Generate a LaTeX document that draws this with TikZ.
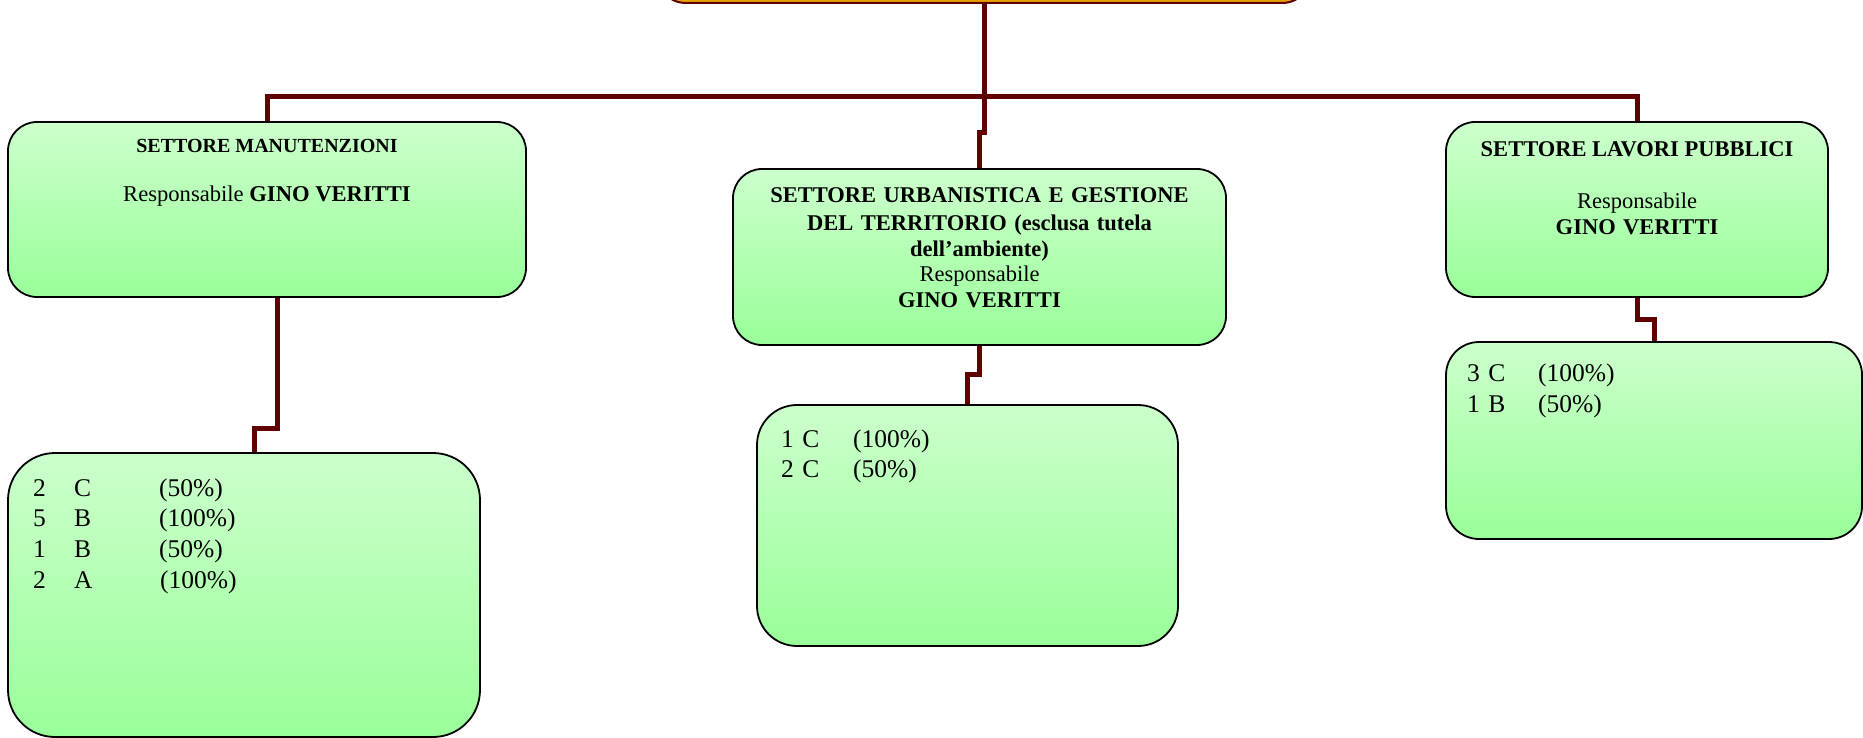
\documentclass[tikz,border=0pt]{standalone}
\usepackage{fontspec}
\setmainfont{Liberation Serif}
\usetikzlibrary{backgrounds}
\definecolor{connred}{RGB}{96,0,0}
\definecolor{gtop}{RGB}{204,255,204}
\definecolor{gbot}{RGB}{153,255,153}
\definecolor{topfill}{RGB}{232,162,0}
\begin{document}
\begin{tikzpicture}[x=1pt,y=-1pt,
  box/.style={draw=black, line width=1.8pt, top color=gtop, bottom color=gbot, inner sep=0pt, outer sep=0pt},
  topbox/.style={draw=connred, line width=2pt, fill=topfill, inner sep=0pt, outer sep=0pt},
  conn/.style={draw=connred, line width=5pt, line join=miter},
  tsmall/.style={inner sep=0pt, font=\fontsize{20}{24}\selectfont\bfseries},
  tmid/.style={inner sep=0pt, font=\fontsize{22.5}{25.5}\selectfont},
  tlow/.style={inner sep=0pt, anchor=base west, align=left, text width=330pt, font=\fontsize{25.5}{30.7}\selectfont}
]
\useasboundingbox (0,0) rectangle (1863,738);
\clip (0,0) rectangle (1863,738);

% boxes
\node[topbox, rounded corners=30pt, minimum width=656pt, minimum height=80pt] (top) at (984,-37) {};
\node[box, rounded corners=29pt, minimum width=518pt, minimum height=175pt] (b1) at (267,209.5) {};
\node[box, rounded corners=29pt, minimum width=493pt, minimum height=176pt] (b2) at (979.5,257) {};
\node[box, rounded corners=29pt, minimum width=382pt, minimum height=175pt] (b3) at (1637,209.5) {};
\node[box, rounded corners=47pt, minimum width=472pt, minimum height=284pt] (b4) at (244,595) {};
\node[box, rounded corners=40pt, minimum width=421pt, minimum height=241pt] (b5) at (967.5,525.5) {};
\node[box, rounded corners=33pt, minimum width=416pt, minimum height=197pt] (b6) at (1654,440.5) {};

% connectors
\coordinate (hj) at (984,97);
\begin{pgfonlayer}{background}
\draw[conn] (top.south) -- (hj);
\draw[conn] (b1.north) |- (hj) -| (b3.north);
\draw[conn] (hj) -- ++(0,36) -| (b2.north);
\draw[conn] ([xshift=10pt]b1.south) -- ++(0,131) -| ([xshift=10pt]b4.north);
\draw[conn] (b2.south) -- ++(0,29) -| (b5.north);
\draw[conn] (b3.south) -- ++(0,22) -| (b6.north);
\end{pgfonlayer}

% texts
\node[tsmall, anchor=base] (b1t) at (267,153) {SETTORE MANUTENZIONI};
\node[tmid, anchor=base, font=\fontsize{22.6}{26}\selectfont] (b1r) at (267,202) {Responsabile \textbf{GINO VERITTI}};

\node[tmid, anchor=base, text width=480pt, align=center] (b2t) at (979.5,203)
  {\textbf{SETTORE URBANISTICA E GESTIONE}\\[2.5pt]
   \textbf{DEL TERRITORIO (esclusa tutela}\\
   \textbf{dell’ambiente)}\\
   Responsabile\\
   \textbf{GINO VERITTI}};

\node[tmid, anchor=base] (b3t) at (1637,157) {\textbf{SETTORE LAVORI PUBBLICI}};
\node[tmid, anchor=base, text width=370pt, align=center, font=\fontsize{22.5}{26}\selectfont] (b3r) at (1637,208)
  {Responsabile\\ \textbf{GINO VERITTI}};

\node[tlow] (b4t) at (33,496)
  {\makebox[41pt][l]{2}\makebox[85pt][l]{C}(50\%)\\
   \makebox[41pt][l]{5}\makebox[85pt][l]{B}(100\%)\\
   \makebox[41pt][l]{1}\makebox[85pt][l]{B}(50\%)\\
   \makebox[41pt][l]{2}\makebox[86pt][l]{A}(100\%)};

\node[tlow, font=\fontsize{25.5}{30}\selectfont] (b5t) at (781,447)
  {\makebox[72pt][l]{1 C}(100\%)\\
   \makebox[72pt][l]{2 C}(50\%)};

\node[tlow, font=\fontsize{25.5}{31}\selectfont] (b6t) at (1467,381)
  {\makebox[71pt][l]{3 C}(100\%)\\
   \makebox[71pt][l]{1 B}(50\%)};
\end{tikzpicture}
\end{document}
